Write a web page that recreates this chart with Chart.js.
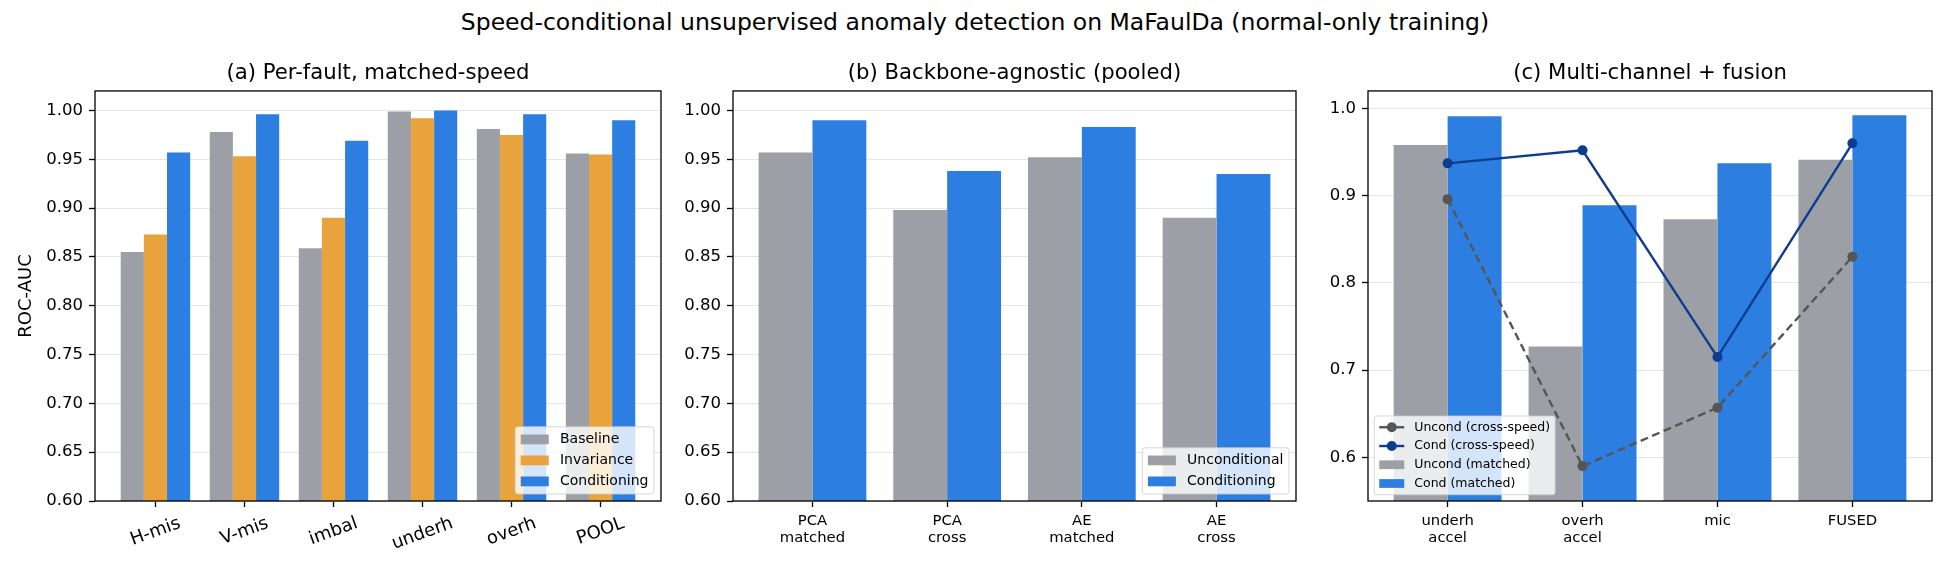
<!DOCTYPE html>
<html>
<head>
<meta charset="utf-8">
<script src="https://cdn.jsdelivr.net/npm/chart.js@4.4.0/dist/chart.umd.min.js"></script>
<style>
body { margin: 0; background: #fff; width: 1950px; height: 572px; position: relative; overflow: hidden; font-family: 'DejaVu Sans', sans-serif; }
#sup { position: absolute; left: 0; top: 8px; width: 1950px; text-align: center; font-size: 23.5px; line-height: 28px; color: #000; }
canvas { position: absolute; top: 0; }
</style>
</head>
<body>
<div id="sup">Speed-conditional unsupervised anomaly detection on MaFaulDa (normal-only training)</div>
<canvas id="chartA" width="680" height="572" style="left:0px"></canvas>
<canvas id="chartB" width="640" height="572" style="left:680px"></canvas>
<canvas id="chartC" width="630" height="572" style="left:1320px"></canvas>
<script>
// (a) per-fault, matched speed
var faultLabels = ['H-mis', 'V-mis', 'imbal', 'underh', 'overh', 'POOL'];
var baselineAuc = [0.855, 0.978, 0.859, 0.999, 0.981, 0.956];
var invarianceAuc = [0.873, 0.953, 0.890, 0.992, 0.975, 0.955];
var conditioningAuc = [0.957, 0.996, 0.969, 1.000, 0.996, 0.990];

// (b) backbone-agnostic, pooled
var backboneLabels = [['PCA', 'matched'], ['PCA', 'cross'], ['AE', 'matched'], ['AE', 'cross']];
var uncondPooled = [0.957, 0.898, 0.952, 0.890];
var condPooled = [0.990, 0.938, 0.983, 0.935];

// (c) multi-channel + fusion
var channelLabels = [['underh', 'accel'], ['overh', 'accel'], ['mic'], ['FUSED']];
var uncondMatched = [0.958, 0.727, 0.873, 0.941];
var condMatched = [0.991, 0.889, 0.937, 0.992];
var uncondCross = [0.896, 0.590, 0.657, 0.830];
var condCross = [0.937, 0.952, 0.715, 0.960];

// y tick labels
var ticksAB = [0.60, 0.65, 0.70, 0.75, 0.80, 0.85, 0.90, 0.95, 1.00];
var ticksC = [0.6, 0.7, 0.8, 0.9, 1.0];

var GRAY = '#9c9fa5', ORANGE = '#e8a33d', BLUE = '#2c7fe0', NAVY = '#0c3c8f', DARK = '#555555';
var FONT = "'DejaVu Sans', sans-serif";

Chart.defaults.font.family = FONT;
Chart.defaults.color = '#000';

function pts(arr) {
    return arr.map(function (v, i) { return { x: i, y: v }; });
}

function yScale(ticks, min, max, width, digits, title) {
    return {
        type: 'linear', min: min, max: max,
        afterFit: function (s) { s.width = width; },
        afterBuildTicks: function (s) { s.ticks = ticks.map(function (v) { return { value: v }; }); },
        ticks: { font: { size: 16.5 }, padding: 6, color: '#000', callback: function (v) { return v.toFixed(digits); } },
        grid: { color: '#e6e6e6', lineWidth: 1, tickColor: '#000', tickLength: 6, tickWidth: 1.3 },
        border: { display: false },
        title: title ? { display: true, text: title, font: { size: 18 }, padding: { top: 16, bottom: 0 }, color: '#000' } : { display: false }
    };
}

function xScale(labels, half, fontSize, showLabels) {
    return {
        type: 'linear', min: -half, max: labels.length - 1 + half, offset: false,
        afterFit: function (s) { s.height = 71; },
        afterBuildTicks: function (s) { s.ticks = labels.map(function (l, i) { return { value: i }; }); },
        ticks: { display: showLabels, autoSkip: false, maxRotation: 0, minRotation: 0, font: { size: fontSize, lineHeight: 1.15 }, padding: 6, color: '#000',
                 callback: function (v) { return labels[v]; } },
        grid: { offset: false, drawOnChartArea: false, tickColor: '#000', tickLength: 6, tickWidth: 1.3 },
        border: { display: false }
    };
}

function titleOpts(text) {
    return { display: true, text: text, fullSize: false, font: { size: 21.2, weight: 'normal' }, color: '#000',
             padding: { top: 61, bottom: 4.5 } };
}

// axes box drawn over the bars, like matplotlib spines
var spines = {
    id: 'spines',
    afterDatasetsDraw: function (chart) {
        var ctx = chart.ctx, a = chart.chartArea;
        ctx.save();
        ctx.strokeStyle = '#000';
        ctx.lineWidth = 1.3;
        ctx.strokeRect(a.left, a.top, a.right - a.left, a.bottom - a.top);
        ctx.restore();
    }
};

// matplotlib-like legend inside the axes
var mplLegend = {
    id: 'mplLegend',
    afterDatasetsDraw: function (chart, args, o) {
        if (!o.fontSize) return;
        var ctx = chart.ctx, a = chart.chartArea, fs = o.fontSize;
        var items = chart.data.datasets.slice().sort(function (p, q) { return p.legendRank - q.legendRank; });
        ctx.save();
        ctx.font = fs + 'px ' + FONT;
        var tw = Math.max.apply(null, items.map(function (d) { return ctx.measureText(d.label).width; }));
        var w = 0.4 * fs * 2 + 2 * fs + 0.8 * fs + tw;
        var h = 0.4 * fs * 2 + items.length * fs + (items.length - 1) * 0.5 * fs;
        var x0 = o.loc === 'lower left' ? a.left + 0.5 * fs : a.right - 0.5 * fs - w;
        var y0 = a.bottom - 0.5 * fs - h;
        ctx.beginPath();
        ctx.roundRect(x0, y0, w, h, 0.2 * fs);
        ctx.fillStyle = 'rgba(255,255,255,0.8)';
        ctx.fill();
        ctx.strokeStyle = 'rgba(204,204,204,0.8)';
        ctx.lineWidth = 1;
        ctx.stroke();
        items.forEach(function (d, i) {
            var cy = y0 + 0.4 * fs + i * 1.5 * fs + 0.5 * fs;
            var hx = x0 + 0.4 * fs;
            if (d.type === 'line') {
                ctx.strokeStyle = d.borderColor;
                ctx.lineWidth = d.borderWidth;
                ctx.setLineDash([]);
                ctx.beginPath();
                ctx.moveTo(hx, cy);
                ctx.lineTo(hx + 2 * fs, cy);
                ctx.stroke();
                ctx.fillStyle = d.borderColor;
                ctx.beginPath();
                ctx.arc(hx + fs, cy, d.pointRadius, 0, Math.PI * 2);
                ctx.fill();
            } else {
                ctx.fillStyle = d.backgroundColor;
                ctx.fillRect(hx, cy - 0.35 * fs, 2 * fs, 0.7 * fs);
            }
            ctx.fillStyle = '#000';
            ctx.textBaseline = 'middle';
            ctx.textAlign = 'left';
            ctx.fillText(d.label, hx + 2.8 * fs, cy);
        });
        ctx.restore();
    }
};

// rotated fault names for panel (a), centred on their ticks
var rotatedLabels = {
    id: 'rotatedLabels',
    afterDraw: function (chart) {
        var ctx = chart.ctx, s = chart.scales.x, th = 20 * Math.PI / 180, fsz = 18;
        ctx.save();
        ctx.font = fsz + 'px ' + FONT;
        ctx.fillStyle = '#000';
        ctx.textAlign = 'center';
        ctx.textBaseline = 'middle';
        faultLabels.forEach(function (lab, i) {
            var x = s.getPixelForValue(i);
            var w = ctx.measureText(lab).width, hgt = fsz * 1.17;
            var H = w * Math.sin(th) + hgt * Math.cos(th);
            ctx.save();
            ctx.translate(x, s.top + 12 + H / 2);
            ctx.rotate(-th);
            ctx.fillText(lab, 0, 0);
            ctx.restore();
        });
        ctx.restore();
    }
};

var common = { responsive: false, animation: false, events: [], devicePixelRatio: 1 };

new Chart(document.getElementById('chartA'), {
    type: 'bar',
    data: {
        datasets: [
            { label: 'Baseline', data: pts(baselineAuc), backgroundColor: GRAY, legendRank: 0 },
            { label: 'Invariance', data: pts(invarianceAuc), backgroundColor: ORANGE, legendRank: 1 },
            { label: 'Conditioning', data: pts(conditioningAuc), backgroundColor: BLUE, legendRank: 2 }
        ]
    },
    options: Object.assign({}, common, {
        layout: { padding: { left: 0, right: 19, top: 0, bottom: 0 } },
        datasets: { bar: { categoryPercentage: 0.78, barPercentage: 1.0, borderWidth: 0 } },
        scales: {
            x: xScale(faultLabels, 0.679, 16.5, false),
            y: yScale(ticksAB, 0.60, 1.02, 95, 2, 'ROC-AUC')
        },
        plugins: {
            legend: { display: false }, tooltip: { enabled: false },
            title: titleOpts('(a) Per-fault, matched-speed'),
            mplLegend: { fontSize: 14, loc: 'lower right' }
        }
    }),
    plugins: [spines, mplLegend, rotatedLabels]
});

new Chart(document.getElementById('chartB'), {
    type: 'bar',
    data: {
        datasets: [
            { label: 'Unconditional', data: pts(uncondPooled), backgroundColor: GRAY, legendRank: 0 },
            { label: 'Conditioning', data: pts(condPooled), backgroundColor: BLUE, legendRank: 1 }
        ]
    },
    options: Object.assign({}, common, {
        layout: { padding: { left: 0, right: 24, top: 0, bottom: 0 } },
        datasets: { bar: { categoryPercentage: 0.8, barPercentage: 1.0, borderWidth: 0 } },
        scales: {
            x: xScale(backboneLabels, 0.59, 14.8, true),
            y: yScale(ticksAB, 0.60, 1.02, 53, 2, null)
        },
        plugins: {
            legend: { display: false }, tooltip: { enabled: false },
            title: titleOpts('(b) Backbone-agnostic (pooled)'),
            mplLegend: { fontSize: 14, loc: 'lower right' }
        }
    }),
    plugins: [spines, mplLegend]
});

new Chart(document.getElementById('chartC'), {
    type: 'bar',
    data: {
        datasets: [
            { type: 'line', label: 'Uncond (cross-speed)', data: pts(uncondCross), borderColor: DARK, backgroundColor: DARK,
              borderWidth: 2.4, borderDash: [8, 4.5], pointRadius: 5, pointBorderWidth: 0, pointBackgroundColor: DARK,
              tension: 0, fill: false, order: 0, legendRank: 0 },
            { type: 'line', label: 'Cond (cross-speed)', data: pts(condCross), borderColor: NAVY, backgroundColor: NAVY,
              borderWidth: 2.4, pointRadius: 5, pointBorderWidth: 0, pointBackgroundColor: NAVY,
              tension: 0, fill: false, order: 0, legendRank: 1 },
            { type: 'bar', label: 'Uncond (matched)', data: pts(uncondMatched), backgroundColor: GRAY, order: 1, legendRank: 2 },
            { type: 'bar', label: 'Cond (matched)', data: pts(condMatched), backgroundColor: BLUE, order: 1, legendRank: 3 }
        ]
    },
    options: Object.assign({}, common, {
        layout: { padding: { left: 0, right: 18, top: 0, bottom: 0 } },
        datasets: { bar: { categoryPercentage: 0.8, barPercentage: 1.0, borderWidth: 0 } },
        scales: {
            x: xScale(channelLabels, 0.59, 14.8, true),
            y: yScale(ticksC, 0.55, 1.02, 48, 1, null)
        },
        plugins: {
            legend: { display: false }, tooltip: { enabled: false },
            title: titleOpts('(c) Multi-channel + fusion'),
            mplLegend: { fontSize: 12.5, loc: 'lower left' }
        }
    }),
    plugins: [spines, mplLegend]
});
</script>
</body>
</html>
